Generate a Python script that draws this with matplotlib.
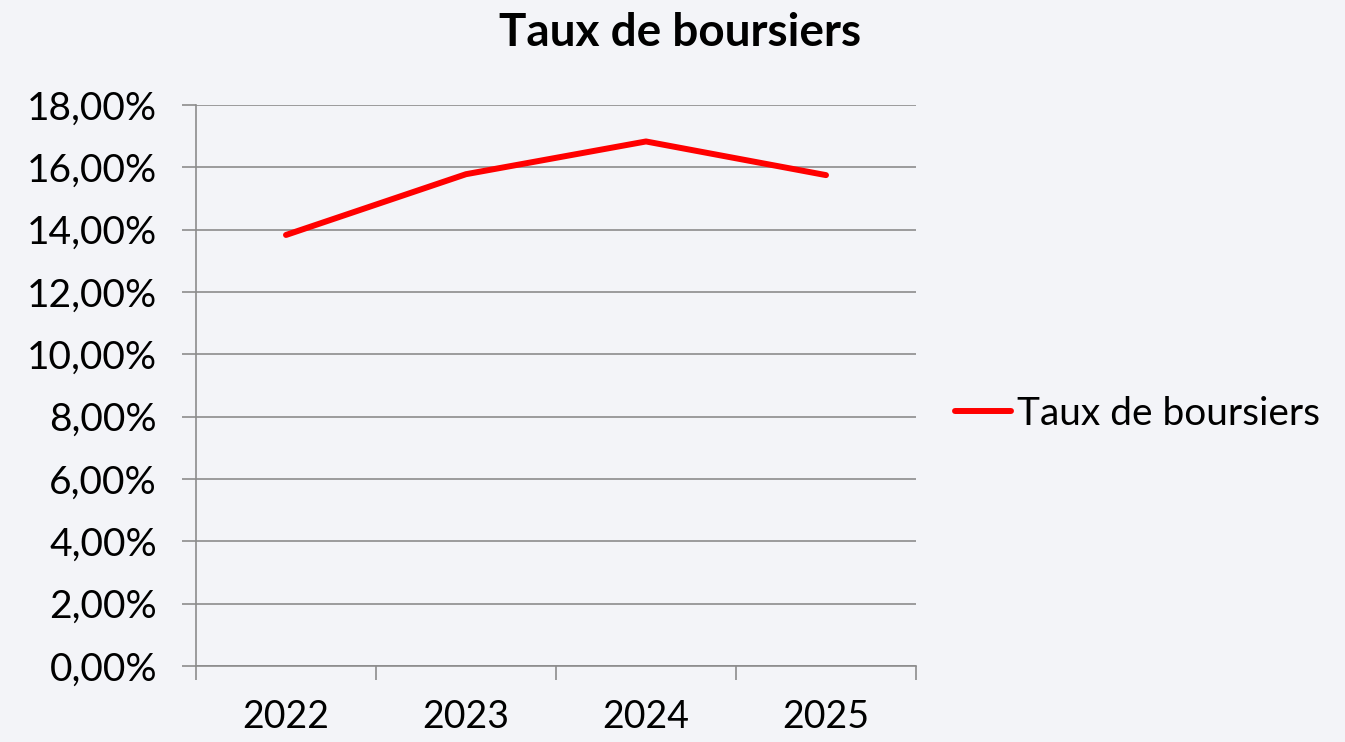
import matplotlib
matplotlib.use("Agg")
import matplotlib.pyplot as plt
from matplotlib.ticker import FuncFormatter, MultipleLocator

years = ["2022", "2023", "2024", "2025"]
taux = [13.83, 15.78, 16.83, 15.75]
series_name = "Taux de boursiers"
title = "Taux de boursiers"

plt.rcParams['font.family'] = ['Lato', 'DejaVu Sans']
bg = "#F3F4F8"
grid_c = "#8C8C8C"

fig = plt.figure(figsize=(13.45, 7.42), dpi=100, facecolor=bg)
ax = fig.add_axes([196/1345, 1-666/742, 720/1345, 561/742])
ax.set_facecolor(bg)

x = [i + 0.5 for i in range(len(years))]
ax.plot(x, taux, color="#FF0000", lw=4.3, solid_capstyle="round", solid_joinstyle="round", label=series_name, zorder=3)

ax.set_xlim(0, len(years))
ax.set_ylim(0, 18)
ax.yaxis.set_major_locator(MultipleLocator(2))
ax.yaxis.set_major_formatter(FuncFormatter(lambda v, p: f"{v:.2f}%".replace(".", ",")))
ax.set_xticks(range(len(years) + 1))
ax.set_xticklabels([])
ax.set_xticks(x, minor=True)
ax.set_xticklabels(years, minor=True)
ax.tick_params(axis="x", which="minor", length=0, pad=24, labelsize=27)
ax.tick_params(axis="x", which="major", length=10, width=1.2, color=grid_c, direction="out")
ax.tick_params(axis="y", length=10, width=1.2, color=grid_c, labelsize=28, pad=18)
ax.grid(axis="y", color=grid_c, lw=1.2)
for s in ["top", "right"]:
    ax.spines[s].set_visible(False)
for s in ["left", "bottom"]:
    ax.spines[s].set_color(grid_c)
    ax.spines[s].set_linewidth(1.2)

fig.text(680/1345, 1-33/742, title, ha="center", va="center", fontsize=33, fontweight="bold")

leg = fig.legend(loc="center left", bbox_to_anchor=(955/1345, 1-414/742), frameon=False,
                 fontsize=28, handlelength=1.45, handletextpad=0.15, borderpad=0, borderaxespad=0)

fig.savefig("out.png", dpi=100, facecolor=bg)
